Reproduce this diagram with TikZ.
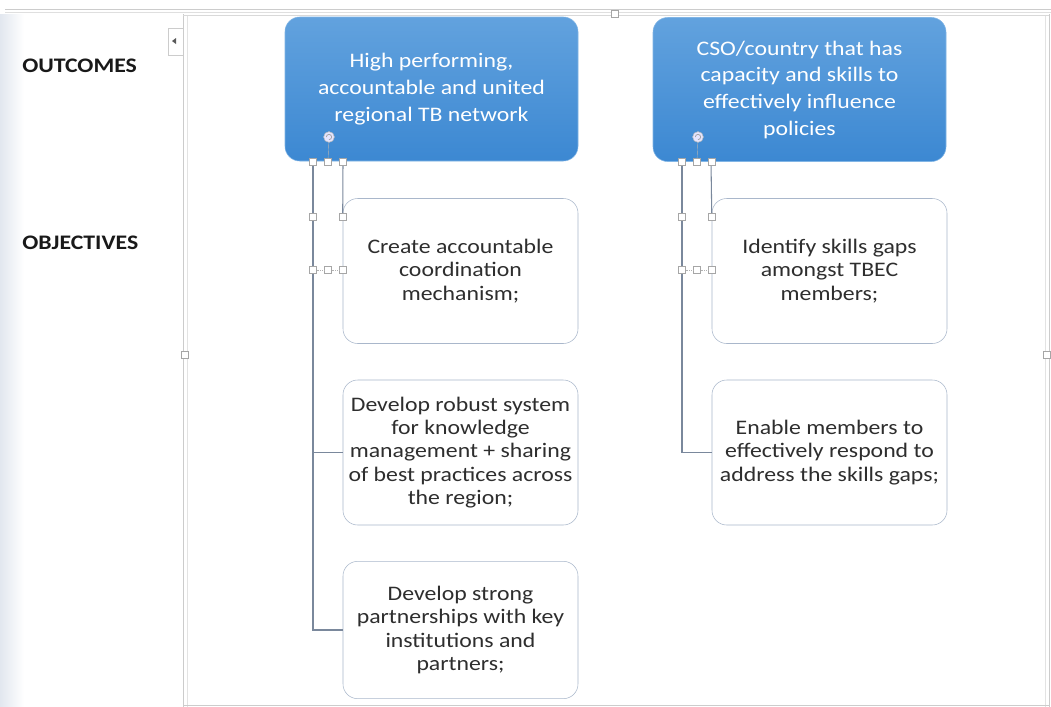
\documentclass[tikz,border=0pt]{standalone}
\usepackage{fontspec}
\setmainfont{Carlito}[FakeStretch=1.15]
\definecolor{boxblue}{HTML}{3C88D2}
\definecolor{boxbluetop}{HTML}{62A2DE}
\definecolor{boxline}{HTML}{A9B7CB}
\definecolor{linkgray}{HTML}{7A889C}
\definecolor{edgeshade}{HTML}{E2E7EF}

\begin{document}
\begin{tikzpicture}[x=0.75pt,y=-0.75pt,
  heading/.style={anchor=west,inner sep=0pt,text=black!90,font=\bfseries\fontsize{15.5}{18}\selectfont},
  outcome/.style={draw=boxbluetop!80!white,rounded corners=11pt,top color=boxbluetop,bottom color=boxblue,
    text=white,minimum width=219.75pt,minimum height=108pt,align=center,font=\fontsize{15.5}{20}\selectfont},
  objective/.style={draw=boxline,fill=white,rounded corners=11pt,minimum width=176.25pt,text=black!82,
    minimum height=108.75pt,align=center,font=\fontsize{15.5}{17.5}\selectfont},
  link/.style={draw=linkgray,line width=0.8pt},
  grip/.style={draw=gray!70,fill=white,line width=0.4pt,minimum size=5pt,inner sep=0pt}]
\useasboundingbox (0,0) rectangle (1051,707);
\fill[white] (0,0) rectangle (1051,707);
\shade[left color=edgeshade,right color=white] (0,14) rectangle (24,707);
\draw[gray!40] (5,9) -- (1051,9);
\draw[gray!25] (5,12) -- (1051,12);
\draw[gray!40] (183,14) -- (183,707);
\draw[gray!22] (187,16) -- (187,707);
\draw[gray!40] (1049,14) -- (1049,707);
\draw[gray!22] (1045,16) -- (1045,707);
\draw[gray!30] (183,15) -- (1049,15);
\draw[gray!40] (183,705) -- (1049,705);
\node[grip] (gtop) at (615,14) {};
\node[grip] (gleft) at (185,355) {};
\node[grip] (gright) at (1047,355) {};
\draw[gray!40,fill=white] (183,28) -- (168,28) -- (168,55) -- (183,55);
\fill[gray!70!black] (172,41) -- (176,38) -- (176,44) -- cycle;

\node[heading] (lout) at (22,66) {OUTCOMES};
\node[heading] (lobj) at (22,243) {OBJECTIVES};

\node[outcome] (out1) at (431.5,89) {High performing,\\accountable and united\\regional TB network};
\node[outcome] (out2) at (799.5,89.5) {CSO/country that has\\capacity and skills to\\effectively influence\\policies};

\node[objective] (c11) at (460.5,271) {Create accountable\\coordination\\mechanism;};
\node[objective] (c12) at (460.5,452.5) {Develop robust system\\for knowledge\\management + sharing\\of best practices across\\the region;};
\node[objective,minimum height=103pt] (c13) at (460.5,630) {Develop strong\\partnerships with key\\institutions and\\partners;};
\node[objective] (c21) at (829.5,271) {Identify skills gaps\\amongst TBEC\\members;};
\node[objective] (c22) at (829.5,452.5) {Enable members to\\effectively respond to\\address the skills gaps;};

\coordinate (t1) at (313,162);
\coordinate (s1) at (343,162);
\coordinate (t2) at (682,162);
\coordinate (s2) at (711,162);
\draw[link] (t1) |- (c12.west);
\draw[link] (t1) |- (c13.west);
\draw[link] (s1) -- ([yshift=-11pt]c11.north west);
\draw[link] (t2) |- (c22.west);
\draw[link] (s2) -- ([yshift=-11pt]c21.north west);

\foreach \x/\e in {313/1,682/2} {
  \node[grip] (ga\e) at (\x,162) {};
  \node[grip] (gb\e) at (\x+15,162) {};
  \node[grip] (gc\e) at (\x+30,162) {};
  \node[grip] (gd\e) at (\x,217) {};
  \node[grip] (ge\e) at (\x+30,217) {};
  \node[grip] (gf\e) at (\x,270) {};
  \node[grip] (gg\e) at (\x+15,270) {};
  \node[grip] (gh\e) at (\x+30,270) {};
  \draw[gray!60,densely dotted] (gf\e) -- (gg\e) -- (gh\e);
  \node[circle,draw=gray!50,fill=white!90!blue,minimum size=8pt,inner sep=0pt] (rot\e) at (\x+16,137) {};
  \draw[gray!60,line width=0.3pt] (rot\e) -- (gb\e);
  \draw[gray!70,line width=0.6pt] ([xshift=-2pt]rot\e.center) arc (180:-90:2pt);
}
\end{tikzpicture}
\end{document}
